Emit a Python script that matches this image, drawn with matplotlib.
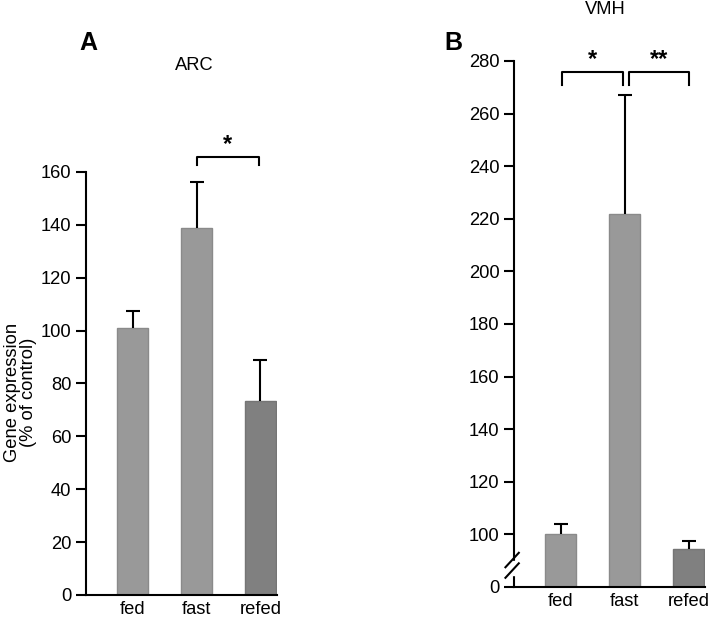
import matplotlib
matplotlib.use("Agg")
import matplotlib.pyplot as plt

plt.rcParams['font.family'] = ['Liberation Sans', 'DejaVu Sans']

groups = ["fed", "fast", "refed"]

# ARC panel
arc_mean = [101, 138.9, 73.5]
arc_err = [6.5, 17.4, 15.5]
arc_ticks = [0, 20, 40, 60, 80, 100, 120, 140, 160]

# VMH panel (axis broken between 0 and 100)
vmh_mean = [100, 222, 94.3]
vmh_err = [4, 45, 3.3]
vmh_ticks = [80, 100, 120, 140, 160, 180, 200, 220, 240, 260, 280]
vmh_ticklabels = ["0", "100", "120", "140", "160", "180", "200", "220", "240", "260", "280"]

fill = ["#999999", "#999999", "#808080"]
edge = ["#8a8a8a", "#8a8a8a", "#757575"]

fig = plt.figure(figsize=(7.09, 6.19), dpi=100)
axA = fig.add_axes([0.1213, 0.0388, 0.2694, 0.6834])
axB = fig.add_axes([0.725, 0.0517, 0.2694, 0.8498])

x = [0, 1, 2]
fs = 13.2


def style(ax):
    for s in ["top", "right"]:
        ax.spines[s].set_visible(False)
    ax.spines["left"].set_linewidth(1.5)
    ax.spines["bottom"].set_linewidth(1.5)
    ax.tick_params(axis="y", direction="out", length=7.5, width=1.5, labelsize=fs, pad=3)
    ax.tick_params(axis="x", length=0, labelsize=fs, pad=4.5)
    ax.set_xlim(-0.727, 2.258)


def bars(ax, mean, err):
    ax.bar(x, mean, width=0.49, color=fill, edgecolor=edge, linewidth=1)
    _, caps, _ = ax.errorbar(x, mean, yerr=[[0, 0, 0], err], fmt="none", ecolor="black",
                             elinewidth=1.5, capsize=5, capthick=1.5)
    caps[0].set_visible(False)


def bracket(ax, x0, x1, y, drop, label):
    ax.plot([x0, x0, x1, x1], [y - drop, y, y, y - drop], color="black", lw=1.5, clip_on=False)
    ax.text((x0 + x1) / 2, y + drop * 0.1, label, ha="center", va="bottom", fontsize=17,
            fontweight="bold", clip_on=False)


# Panel A
bars(axA, arc_mean, arc_err)
style(axA)
axA.set_ylim(0, 160)
axA.set_yticks(arc_ticks)
axA.set_xticks(x)
axA.set_xticklabels(groups)
axA.set_ylabel("Gene expression\n(% of control)", fontsize=fs, linespacing=0.95)
axA.yaxis.set_label_coords(-0.255, 0.478)
bracket(axA, 1, 1.98, 165.7, 3.2, "*")
fig.text(194 / 709, 1 - 65 / 619, "ARC", ha="center", va="center", fontsize=fs)
fig.text(88 / 709, 1 - 43 / 619, "A", ha="center", va="center", fontsize=18, fontweight="bold")

# Panel B
bars(axB, vmh_mean, vmh_err)
style(axB)
axB.set_ylim(80, 280)
axB.set_yticks(vmh_ticks)
axB.set_yticklabels(vmh_ticklabels)
axB.set_xticks(x)
axB.set_xticklabels(groups)
bracket(axB, 0.03, 0.97, 275.7, 4.7, "*")
bracket(axB, 1.07, 2.0, 275.7, 4.7, "**")

# axis break marks
trans = axB.get_yaxis_transform()
axB.add_patch(plt.Rectangle((-0.02, 84.5), 0.04, 5.5, transform=trans,
                            color="white", zorder=5, clip_on=False))
for y0 in [83.5, 87.5]:
    axB.plot([-0.045, 0.025], [y0, y0 + 5.5], transform=trans,
             color="black", lw=1.5, clip_on=False, zorder=6)

fig.text(605 / 709, 1 - 10 / 619, "VMH", ha="center", va="center", fontsize=fs)
fig.text(453 / 709, 1 - 43 / 619, "B", ha="center", va="center", fontsize=18, fontweight="bold")

fig.savefig("out.png", dpi=100)
